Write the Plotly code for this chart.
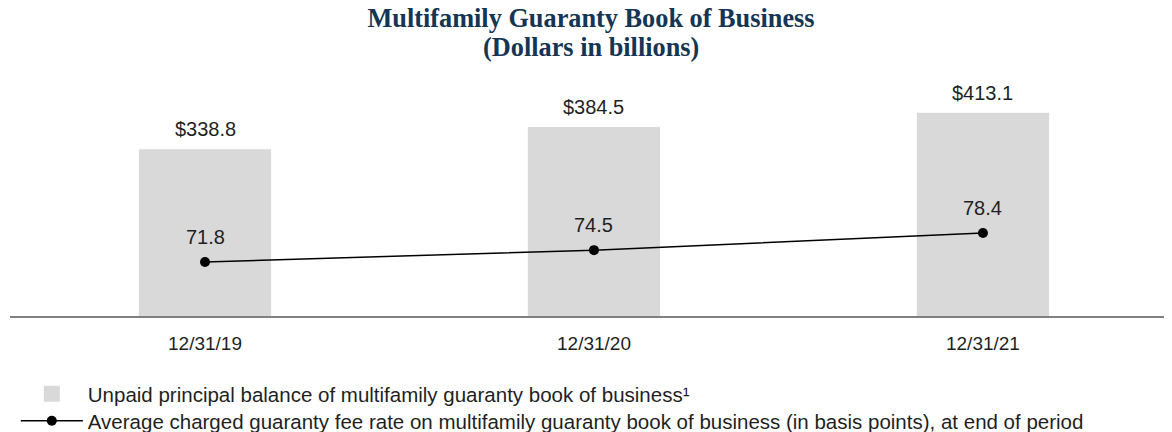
import plotly.graph_objects as go

categories = ["12/31/19", "12/31/20", "12/31/21"]
upb_values = [338.8, 384.5, 413.1]
fee_rates = [71.8, 74.5, 78.4]
upb_labels = ["$338.8", "$384.5", "$413.1"]
fee_labels = ["71.8", "74.5", "78.4"]

title_line1 = "Multifamily Guaranty Book of Business"
title_line2 = "(Dollars in billions)"
bar_name = "Unpaid principal balance of multifamily guaranty book of business¹"
line_name = "Average charged guaranty fee rate on multifamily guaranty book of business (in basis points), at end of period"

SANS = "Liberation Sans, Arial, sans-serif"
SERIF = "Liberation Serif, Times New Roman, serif"
TXT = "#1f1f1f"
TITLE_COLOR = "#143553"
BAR_COLOR = "#d9d9d9"

# the page body has an 8px margin, so the figure is sized to fill the rest
W, H = 1164, 424
PLOT_TOP, PLOT_BOTTOM = 82, 308
PH = PLOT_BOTTOM - PLOT_TOP

fig = go.Figure()
fig.add_trace(go.Bar(
    x=categories, y=upb_values, name=bar_name,
    marker=dict(color=BAR_COLOR, line=dict(width=0)),
    width=0.34, yaxis="y", showlegend=False,
))
# legend entry for the bars (larger square symbol like the reference)
fig.add_trace(go.Scatter(
    x=[None], y=[None], name=bar_name, mode="markers",
    marker=dict(color=BAR_COLOR, size=16, symbol="square"),
    legend="legend",
))
fig.add_trace(go.Scatter(
    x=categories, y=fee_rates, name=line_name, mode="lines+markers",
    line=dict(color="#000000", width=1.5),
    marker=dict(color="#000000", size=10),
    yaxis="y2", legend="legend2",
))

annotations = []
for c, v, t in zip(categories, upb_values, upb_labels):
    annotations.append(dict(x=c, y=v, xref="x", yref="y", text=t, showarrow=False,
                            yanchor="bottom", yshift=7, font=dict(family=SANS, size=20, color=TXT)))
for c, v, t in zip(categories, fee_rates, fee_labels):
    annotations.append(dict(x=c, y=v, xref="x", yref="y2", text=t, showarrow=False,
                            yanchor="bottom", yshift=12, font=dict(family=SANS, size=20, color=TXT)))
# second title line
annotations.append(dict(x=0.5, xref="paper", y=(PLOT_BOTTOM - 40) / PH, yref="paper", yanchor="middle",
                        text="<b>" + title_line2 + "</b>", showarrow=False,
                        font=dict(family=SERIF, size=26.3, color=TITLE_COLOR)))

legend_common = dict(orientation="v", x=0.005, xanchor="left", yanchor="top",
                     font=dict(family=SANS, size=20.5, color=TXT), itemwidth=62,
                     bgcolor="rgba(0,0,0,0)")

fig.update_layout(
    width=W, height=H,
    margin=dict(l=2, r=0, t=PLOT_TOP, b=H - PLOT_BOTTOM, autoexpand=False),
    paper_bgcolor="white", plot_bgcolor="white",
    title=dict(text="<b>" + title_line1 + "</b>",
               x=0.5, xref="paper", y=1 - 10 / H, yref="container", yanchor="middle",
               font=dict(family=SERIF, size=26.3, color=TITLE_COLOR)),
    xaxis=dict(range=[-0.5013, 2.486], showgrid=False, zeroline=False,
               showline=True, linecolor="#808080", linewidth=2,
               ticks="", ticklabelstandoff=9,
               tickfont=dict(family=SANS, size=19, color=TXT)),
    yaxis=dict(range=[0, 459.5], visible=False, showgrid=False, zeroline=False),
    yaxis2=dict(range=[59.51, 110.95], overlaying="y", visible=False, showgrid=False, zeroline=False),
    showlegend=True,
    legend=dict(legend_common, y=(PLOT_BOTTOM - 366) / PH),
    legend2=dict(legend_common, y=(PLOT_BOTTOM - 393) / PH),
    annotations=annotations,
    bargap=0.66,
)

fig.write_html("out.html")
